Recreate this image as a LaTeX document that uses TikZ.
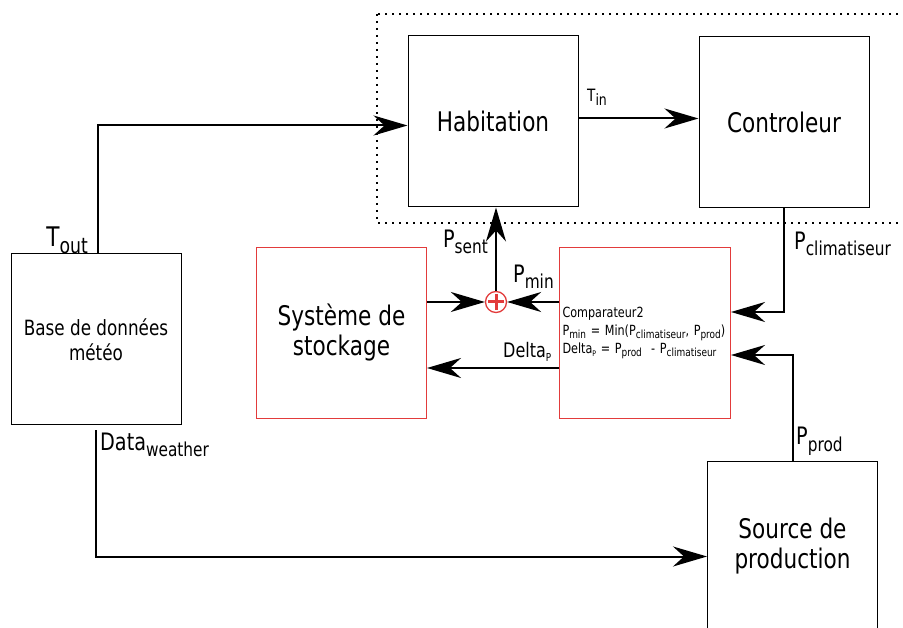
\documentclass[tikz,border=0pt]{standalone}
\usepackage{fontspec}
\setmainfont[FakeStretch=0.8]{DejaVu Sans}
\usepackage{xcolor}
\usepackage{tikz}
\usetikzlibrary{arrows.meta}
\usetikzlibrary{positioning}

\definecolor{rouge}{HTML}{E23B3B}
\newcommand{\taille}[2]{\fontsize{#1}{#2}\selectfont}
\newcommand{\indice}[1]{\raisebox{-0.25em}{\scalebox{0.8}{#1}}}
\newcommand{\indicep}[1]{\raisebox{-0.2em}{\scalebox{0.55}{#1}}}

\begin{document}
\begin{tikzpicture}[x=1pt, y=-1pt,
  bloc/.style={draw, line width=1pt, minimum width=170pt, minimum height=171pt,
    align=center, inner sep=0pt, font=\taille{27}{30}},
  blocrouge/.style={bloc, draw=rouge},
  fleche/.style={line width=2pt, -{Stealth[length=34pt, width=20pt, inset=11pt]}},
  etiq/.style={inner sep=0pt, font=\taille{24}{24}}]
  \useasboundingbox (0,0) rectangle (903,628);

  % Zone en pointilles
  \draw[line width=2pt, dash pattern=on 2pt off 5pt] (377,14) rectangle (908,223);

  % Blocs
  \node[bloc] (habitation) at (493,121.5) {Habitation};
  \node[bloc] (controleur) at (784,122.5) {Controleur};
  \node[bloc, font=\taille{21}{25}] (base) at (96,339.5) {Base de données\\météo};
  \node[blocrouge] (stockage) at (341.5,333) {Système de\\stockage};
  \node[blocrouge, font=\taille{14}{18}, align=left, text width=165pt, inner xsep=3pt]
    (comparateur) at (645,333)
    {Comparateur2\\
     P\indice{min} = Min(P\indice{climatiseur}, P\indice{prod})\\
     Delta\indicep{P} = P\indice{prod}\ \ - P\indice{climatiseur}};
  \node[bloc] (source) at (792.5,546.5) {Source de\\production};

  % Sommateur
  \node[circle, draw=rouge, line width=1.3pt, minimum size=21pt, inner sep=0pt] (somme) at (496,302) {};
  \draw[rouge, line width=3pt] ([yshift=-3pt]somme.north) -- ([yshift=3pt]somme.south);
  \draw[rouge, line width=3pt] ([xshift=3pt]somme.west) -- ([xshift=-3pt]somme.east);

  % Etiquettes
  \node[etiq, font=\taille{17}{17}, anchor=base west] (tin) at (587,102) {T\raisebox{-0.2em}{\scalebox{0.92}{in}}};
  \node[etiq, font=\taille{27}{27}, anchor=base east] (tout) at (88,247) {T\indice{out}};
  \node[etiq, anchor=base east] (psent) at (488,248) {P\indice{sent}};
  \node[etiq, anchor=base west] (pmin) at (513,283) {P\indice{min}};
  \node[etiq, font=\taille{20}{20}, anchor=base west] (delta) at (503,358) {Delta\indicep{P}};
  \node[etiq, anchor=base west] (pclim) at (794,250) {P\indice{climatiseur}};
  \node[etiq, anchor=base west] (pprod) at (796,445) {P\indice{prod}};
  \node[etiq, anchor=base west] (data) at (100,450) {Data\indice{weather}};

  % Connexions
  \draw[fleche] ([xshift=2pt]base.north) |- ([yshift=-4pt]habitation.west);
  \draw[fleche] ([yshift=3pt]habitation.east) -- ([yshift=4pt]controleur.west);
  \draw[fleche] (controleur.south) |- ([yshift=21pt]comparateur.east);
  \draw[fleche] (source.north) |- ([yshift=-22pt]comparateur.east);
  \draw[fleche] ([yshift=-5pt]base.south) |- ([yshift=-10pt]source.west);
  \draw[fleche] (somme.north) -- (somme.north |- habitation.south);
  \draw[fleche] (somme.west -| stockage.east) -- (somme.west);
  \draw[fleche] (somme.east -| comparateur.west) -- (somme.east);
  \draw[fleche] ([yshift=-35pt]comparateur.west) -- ([yshift=-35pt]stockage.east);
\end{tikzpicture}
\end{document}
